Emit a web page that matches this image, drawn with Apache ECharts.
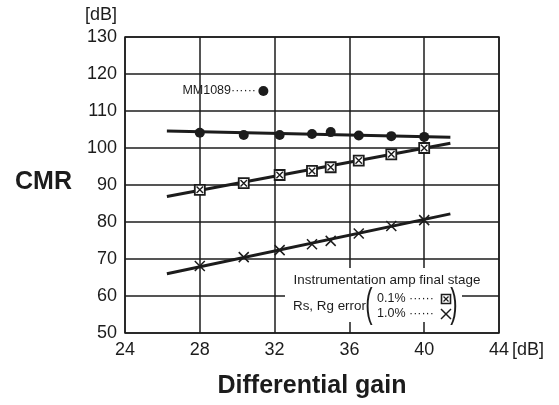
<!DOCTYPE html>
<html>
<head>
<meta charset="utf-8">
<script src="https://cdn.jsdelivr.net/npm/echarts@6/dist/echarts.min.js"></script>
<style>
html,body{margin:0;padding:0;background:#fff;}
#chart{width:559px;height:405px;}
</style>
</head>
<body>
<div id="chart"></div>
<script>
const FONT = "'Liberation Sans', Arial, Helvetica, sans-serif";
const xTicks = [24, 28, 32, 36, 40, 44];
const gainX = [28, 30.35, 32.27, 34, 35, 36.5, 38.24, 40];
const cmrMM1089 = [104.1, 103.5, 103.5, 103.8, 104.3, 103.4, 103.2, 103.0];
const cmrErr01 = [88.7, 90.5, 92.7, 93.8, 94.8, 96.6, 98.3, 100.0];
const cmrErr10 = [68.1, 70.5, 72.4, 74.0, 74.9, 76.9, 78.9, 80.5];
const fitX = [26.24, 41.4];
const fitMM1089 = [104.6, 102.9];
const fitErr01 = [86.9, 101.3];
const fitErr10 = [66.0, 82.2];
const mmLabelPoint = [31.4, 115.4];

const pair = (xs, ys) => xs.map((x, i) => [x, ys[i]]);
const INK = '#1c1c1c';
const crossPath = 'path://M0 0L10 10M10 0L0 10';

const chart = echarts.init(document.getElementById('chart'), null, {renderer: 'canvas'});
chart.setOption({
  animation: false,
  backgroundColor: '#fff',
  grid: {left: 125, right: 60, top: 37, bottom: 72, show: true, borderColor: INK, borderWidth: 1.5, backgroundColor: 'transparent'},
  xAxis: {
    type: 'value', min: 24, max: 44, interval: 4,
    axisLine: {show: false}, axisTick: {show: false},
    axisLabel: {color: INK, fontSize: 18, fontFamily: FONT, margin: 8,
      formatter: v => xTicks.includes(v) ? String(v) : ''},
    splitLine: {show: true, lineStyle: {color: INK, width: 1.5}}
  },
  yAxis: {
    type: 'value', min: 50, max: 130, interval: 10,
    axisLine: {show: false}, axisTick: {show: false},
    axisLabel: {color: INK, fontSize: 18, fontFamily: FONT, margin: 8},
    splitLine: {show: true, lineStyle: {color: INK, width: 1.5}}
  },
  series: [
    {type: 'line', data: pair(fitX, fitMM1089), symbol: 'none', lineStyle: {color: INK, width: 3}, z: 3},
    {type: 'line', data: pair(fitX, fitErr01), symbol: 'none', lineStyle: {color: INK, width: 3}, z: 3},
    {type: 'line', data: pair(fitX, fitErr10), symbol: 'none', lineStyle: {color: INK, width: 3}, z: 3},
    {type: 'scatter', data: pair(gainX, cmrMM1089).concat([mmLabelPoint]), symbol: 'circle', symbolSize: 10,
      itemStyle: {color: INK, opacity: 1}, z: 4},
    {type: 'scatter', data: pair(gainX, cmrErr01), symbol: 'rect', symbolSize: 10,
      itemStyle: {color: '#fff', borderColor: INK, borderWidth: 1.8, opacity: 1}, z: 4},
    {type: 'scatter', data: pair(gainX, cmrErr01), symbol: crossPath, symbolSize: 6.5,
      itemStyle: {color: 'transparent', borderColor: INK, borderWidth: 1.4, opacity: 1}, z: 5},
    {type: 'scatter', data: pair(gainX, cmrErr10), symbol: crossPath, symbolSize: 10,
      itemStyle: {color: 'transparent', borderColor: INK, borderWidth: 1.5, opacity: 1}, z: 4}
  ],
  graphic: [
    {type: 'text', x: 101, y: 15, z: 100, style: {text: '[dB]', fill: INK, font: '18px ' + FONT, textAlign: 'center', textVerticalAlign: 'middle'}},
    {type: 'text', x: 512, y: 350, z: 100, style: {text: '[dB]', fill: INK, font: '18px ' + FONT, textAlign: 'left', textVerticalAlign: 'middle'}},
    {type: 'text', x: 15, y: 182, z: 100, style: {text: 'CMR', fill: INK, font: 'bold 25px ' + FONT, textAlign: 'left', textVerticalAlign: 'middle'}},
    {type: 'text', x: 312, y: 386, z: 100, style: {text: 'Differential gain', fill: INK, font: 'bold 25px ' + FONT, textAlign: 'center', textVerticalAlign: 'middle'}},
    {type: 'text', x: 256, y: 91, z: 100, style: {text: 'MM1089······', fill: INK, font: '12.5px ' + FONT, textAlign: 'right', textVerticalAlign: 'middle'}},
    {type: 'rect', z: 90, shape: {x: 285, y: 268, width: 177, height: 54}, style: {fill: '#fff'}},
    {type: 'text', x: 387, y: 280, z: 100, style: {text: 'Instrumentation amp final stage', fill: INK, font: '13.4px ' + FONT, textAlign: 'center', textVerticalAlign: 'middle'}},
    {type: 'text', x: 293, y: 306, z: 100, style: {text: 'Rs, Rg error', fill: INK, font: '13.4px ' + FONT, textAlign: 'left', textVerticalAlign: 'middle'}},
    {type: 'text', x: 369, y: 306, z: 100, scaleX: 0.55, style: {text: '(', fill: INK, font: '40px ' + FONT, textAlign: 'center', textVerticalAlign: 'middle'}},
    {type: 'text', x: 454, y: 306, z: 100, scaleX: 0.55, style: {text: ')', fill: INK, font: '40px ' + FONT, textAlign: 'center', textVerticalAlign: 'middle'}},
    {type: 'text', x: 377, y: 299, z: 100, style: {text: '0.1% ······', fill: INK, font: '12.5px ' + FONT, textAlign: 'left', textVerticalAlign: 'middle'}},
    {type: 'text', x: 377, y: 314, z: 100, style: {text: '1.0% ······', fill: INK, font: '12.5px ' + FONT, textAlign: 'left', textVerticalAlign: 'middle'}},
    {type: 'rect', z: 100, shape: {x: 441.5, y: 294.5, width: 9, height: 9}, style: {fill: '#fff', stroke: INK, lineWidth: 1.6}},
    {type: 'line', z: 101, shape: {x1: 443.5, y1: 296.5, x2: 448.5, y2: 301.5}, style: {stroke: INK, lineWidth: 1.3}},
    {type: 'line', z: 101, shape: {x1: 448.5, y1: 296.5, x2: 443.5, y2: 301.5}, style: {stroke: INK, lineWidth: 1.3}},
    {type: 'line', z: 101, shape: {x1: 441, y1: 309, x2: 451, y2: 319}, style: {stroke: INK, lineWidth: 1.5}},
    {type: 'line', z: 101, shape: {x1: 451, y1: 309, x2: 441, y2: 319}, style: {stroke: INK, lineWidth: 1.5}}
  ]
});
</script>
</body>
</html>
